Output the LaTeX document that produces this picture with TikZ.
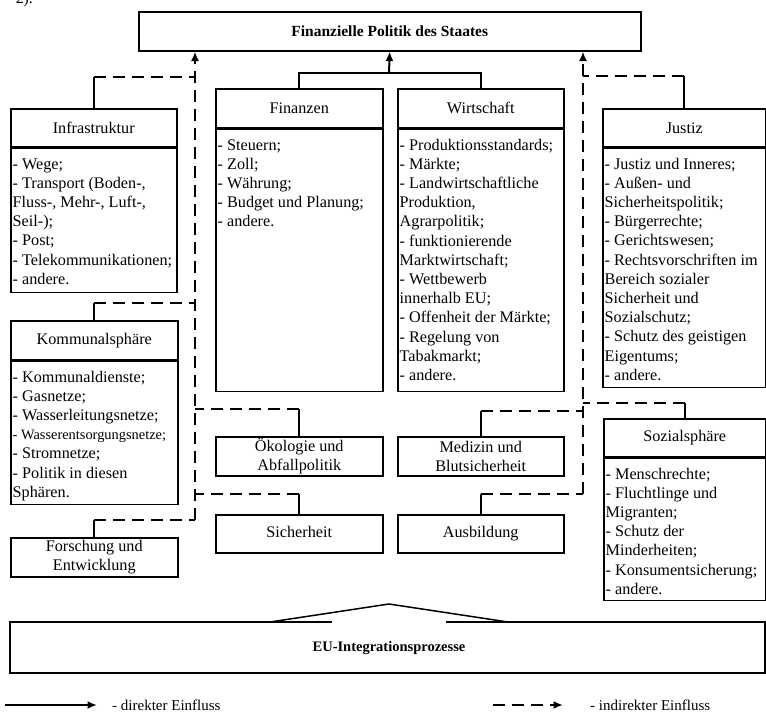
\documentclass[tikz,border=0pt]{standalone}
\usepackage{fontspec}
\setmainfont{Liberation Serif}
\usetikzlibrary{arrows.meta,calc}
\begin{document}
\begin{tikzpicture}[x=1pt,y=-1pt,
  bx/.style={draw, line width=1.5pt, inner sep=0pt, anchor=north west},
  ttl/.style={font=\fontsize{16.2}{19.2}\selectfont, align=center},
  lst/.style={font=\fontsize{16.2}{19.2}\selectfont, align=left, inner sep=0pt, anchor=north west},
  con/.style={line width=2pt},
  dcon/.style={line width=2pt, dash pattern=on 12pt off 7pt},
  arr/.style={-{Latex[length=9.5pt,width=8pt]}},
]
\useasboundingbox (0,0) rectangle (766,712);

% fragment of text above
\node[anchor=base east, font=\fontsize{15.7}{19.2}\selectfont, inner sep=0pt] (frag) at (33,3) {2).};

% top box
\node[bx, minimum width=502pt, minimum height=39pt, font=\bfseries\fontsize{15.5}{19}\selectfont] (top) at (138,11) {Finanzielle Politik des Staates};

% Infrastruktur
\node[bx, ttl, minimum width=166pt, minimum height=38pt] (infH) at (10,108) {Infrastruktur};
\node[bx, minimum width=166pt, minimum height=144pt] (infB) at (infH.south west) {};
\node[lst] (infT) at ($(infB.north west)+(2.5,8)$) {\strut- Wege;\\- Transport (Boden-,\\Fluss-, Mehr-, Luft-,\\Seil-);\\- Post;\\- Telekommunikationen;\\- andere.};

% Finanzen
\node[bx, ttl, minimum width=167pt, minimum height=39pt] (finH) at (215,88) {Finanzen};
\node[bx, minimum width=167pt, minimum height=262pt] (finB) at (finH.south west) {};
\node[lst] (finT) at ($(finB.north west)+(2.5,8)$) {\strut- Steuern;\\- Zoll;\\- Währung;\\- Budget und Planung;\\- andere.};

% Wirtschaft
\node[bx, ttl, minimum width=166pt, minimum height=39pt] (wirH) at (397,88) {Wirtschaft};
\node[bx, minimum width=166pt, minimum height=262pt] (wirB) at (wirH.south west) {};
\node[lst] (wirT) at ($(wirB.north west)+(2.5,8)$) {\strut- Produktionsstandards;\\- Märkte;\\- Landwirtschaftliche\\Produktion,\\Agrarpolitik;\\- funktionierende\\Marktwirtschaft;\\- Wettbewerb\\innerhalb EU;\\- Offenheit der Märkte;\\- Regelung von\\Tabakmarkt;\\- andere.};

% Justiz
\node[bx, ttl, minimum width=163pt, minimum height=38pt] (jusH) at (602,108) {Justiz};
\node[bx, minimum width=163pt, minimum height=239pt] (jusB) at (jusH.south west) {};
\node[lst] (jusT) at ($(jusB.north west)+(2.5,8)$) {\strut- Justiz und Inneres;\\- Außen- und\\Sicherheitspolitik;\\- Bürgerrechte;\\- Gerichtswesen;\\- Rechtsvorschriften im\\Bereich sozialer\\Sicherheit und\\Sozialschutz;\\- Schutz des geistigen\\Eigentums;\\- andere.};

% Kommunalsphaere
\node[bx, ttl, minimum width=167pt, minimum height=39pt] (komH) at (10,320) {Kommunalsphäre};
\node[bx, minimum width=167pt, minimum height=143pt] (komB) at (komH.south west) {};
\node[lst] (komT) at ($(komB.north west)+(2.5,8)$) {\strut- Kommunaldienste;\\- Gasnetze;\\- Wasserleitungsnetze;\\{\fontsize{14.4}{19.2}\selectfont - Wasserentsorgungsnetze;}\\- Stromnetze;\\- Politik in diesen\\Sphären.};

% Sozialsphaere
\node[bx, ttl, minimum width=162pt, minimum height=38pt] (sozH) at (603,418) {Sozialsphäre};
\node[bx, minimum width=162pt, minimum height=142pt] (sozB) at (sozH.south west) {};
\node[lst] (sozT) at ($(sozB.north west)+(2.5,8)$) {\strut- Menschrechte;\\- Fluchtlinge und\\Migranten;\\- Schutz der\\Minderheiten;\\- Konsumentsicherung;\\- andere.};

% small boxes
\node[bx, ttl, minimum width=167pt, minimum height=39pt] (fe) at (10,537) {Forschung und\\Entwicklung};
\node[bx, ttl, minimum width=167pt, minimum height=39pt] (oek) at (215,436) {Ökologie und\\Abfallpolitik};
\node[bx, ttl, minimum width=166pt, minimum height=39pt] (med) at (397,436) {Medizin und\\Blutsicherheit};
\node[bx, ttl, minimum width=167pt, minimum height=38pt] (sic) at (215,514) {Sicherheit\strut};
\node[bx, ttl, minimum width=166pt, minimum height=38pt] (aus) at (397,514) {Ausbildung\strut};

% direct influence
\coordinate (jc) at (389,73);
\draw[con] (finH.north) |- (jc) -| (wirH.north);
\draw[con, arr] (jc) -- (top.south);

% left indirect trunk
\coordinate (lb) at (195,520);
\draw[dcon, arr] (lb) -- (lb |- top.south);
\draw[con] (infH.north) -- ++(0,-31) coordinate (i1);
\draw[dcon] (i1) -- (i1 -| lb);
\draw[con] (komH.north) -- ++(0,-17) coordinate (k1);
\draw[dcon] (k1) -- (k1 -| lb);
\draw[con] (fe.north) -- ++(0,-17) coordinate (f1);
\draw[dcon] (f1) -- (f1 -| lb);
\draw[con] (oek.north) -- ++(0,-27) coordinate (o1);
\draw[dcon] (o1) -- (o1 -| lb);
\draw[con] (sic.north) -- ++(0,-20) coordinate (s1);
\draw[dcon] (s1) -- (s1 -| lb);

% right indirect trunk
\coordinate (rb) at (583,494);
\draw[dcon, arr] (rb) -- (rb |- top.south);
\draw[con] (jusH.north) -- ++(0,-32) coordinate (j1);
\draw[dcon] (j1) -- (j1 -| rb);
\draw[con] (sozH.north) -- ++(0,-15) coordinate (z1);
\draw[dcon] (z1) -- (z1 -| rb);
\draw[con] (med.north) -- ++(0,-25) coordinate (m1);
\draw[dcon] (m1) -- (m1 -| rb);
\draw[con] (aus.north) -- ++(0,-20) coordinate (a1);
\draw[dcon] (a1) -- (a1 -| rb);

% EU box
\node[font=\bfseries\fontsize{14.5}{18}\selectfont] (eu) at (389,648) {EU-Integrationsprozesse};
\draw[line width=1.5pt] (332,622) -- (10,622) -- (10,673) -- (765,673) -- (765,622) -- (446,622);
\draw[line width=1.5pt] (270,622) -- (389,604) -- (508,622);

% legend
\coordinate (la1) at (5,705);
\coordinate (la2) at (97,705);
\draw[con, arr] (la1) -- (la2);
\node[anchor=base west, inner sep=0pt, font=\fontsize{15}{18}\selectfont] (lt1) at (112,710) {- direkter Einfluss};
\coordinate (lc1) at (493,705);
\coordinate (lc2) at (563,705);
\draw[dcon, arr] (lc1) -- (lc2);
\node[anchor=base west, inner sep=0pt, font=\fontsize{15}{18}\selectfont] (lt2) at (590,710) {- indirekter Einfluss};
\end{tikzpicture}
\end{document}
